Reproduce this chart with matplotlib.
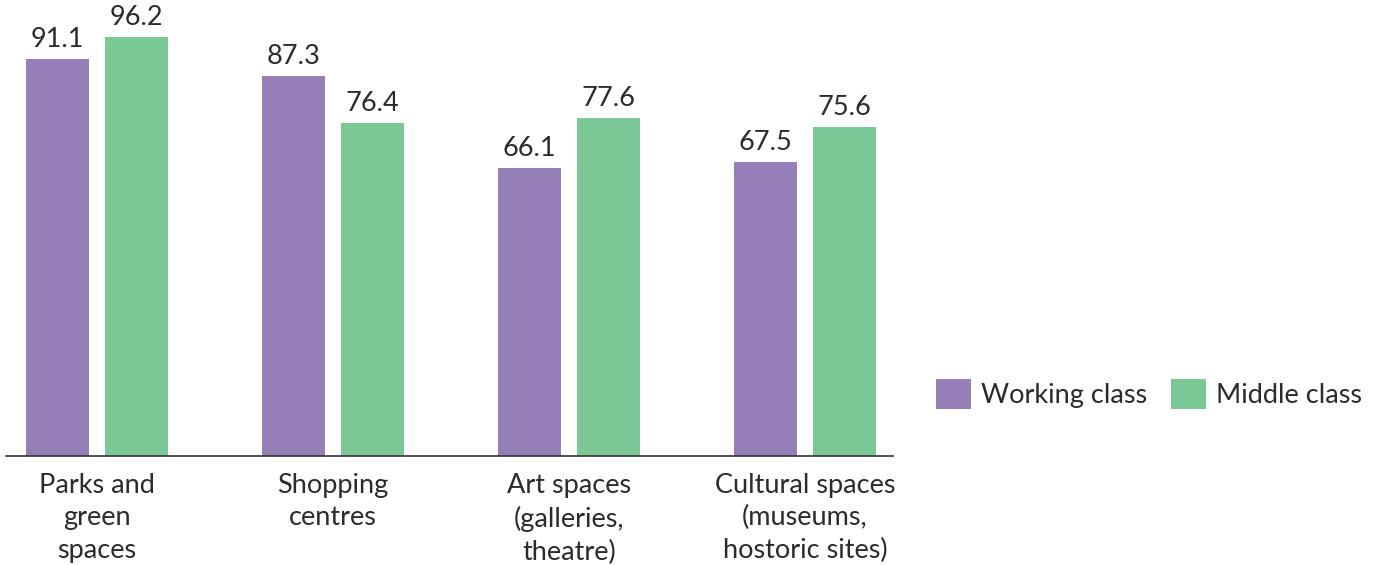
import matplotlib
matplotlib.use("Agg")
import matplotlib.pyplot as plt
import numpy as np

categories = ["Parks and\ngreen\nspaces", "Shopping\ncentres", "Art spaces\n(galleries,\ntheatre)", "Cultural spaces\n(museums,\nhostoric sites)"]
series_names = ["Working class", "Middle class"]
working = [91.1, 87.3, 66.1, 67.5]
middle = [96.2, 76.4, 77.6, 75.6]
colors = ["#967EB8", "#7AC896"]

plt.rcParams['font.family'] = ['Lato', 'DejaVu Sans']
W, H = 1381, 565
FS = 19.5
fig = plt.figure(figsize=(W/100, H/100), dpi=100)
ax = fig.add_axes([6/W, 1-456/H, (893-6)/W, (456-20.4)/H])

x = np.arange(len(categories))
bw = 0.267
off = 0.1675
for vals, o, c, n in [(working, -off, colors[0], series_names[0]), (middle, off, colors[1], series_names[1])]:
    bars = ax.bar(x + o, vals, bw, color=c, label=n)
    for b, v in zip(bars, vals):
        ax.text(b.get_x() + b.get_width()/2, v + 1.6, f"{v:.1f}", ha='center', va='bottom',
                fontsize=FS, color='#2b2b2b', clip_on=False)

ax.set_xlim(-0.386, 3.373)
ax.set_ylim(0, 100)
ax.set_xticks(x)
ax.set_xticklabels(categories, fontsize=FS, color='#2b2b2b', linespacing=1.38)
ax.tick_params(axis='x', length=0, pad=12)
ax.set_yticks([])
for s in ['top', 'right', 'left']:
    ax.spines[s].set_visible(False)
ax.spines['bottom'].set_color('#333333')
ax.spines['bottom'].set_linewidth(1.2)

fig.legend(loc='center left', bbox_to_anchor=(936/W, 1-394/H), ncol=2, frameon=False,
           fontsize=FS, borderaxespad=0, borderpad=0, handlelength=1.29, handleheight=1.29,
           handletextpad=0.37, columnspacing=0.89, labelcolor='#2b2b2b')

fig.savefig("out.png", dpi=100)
